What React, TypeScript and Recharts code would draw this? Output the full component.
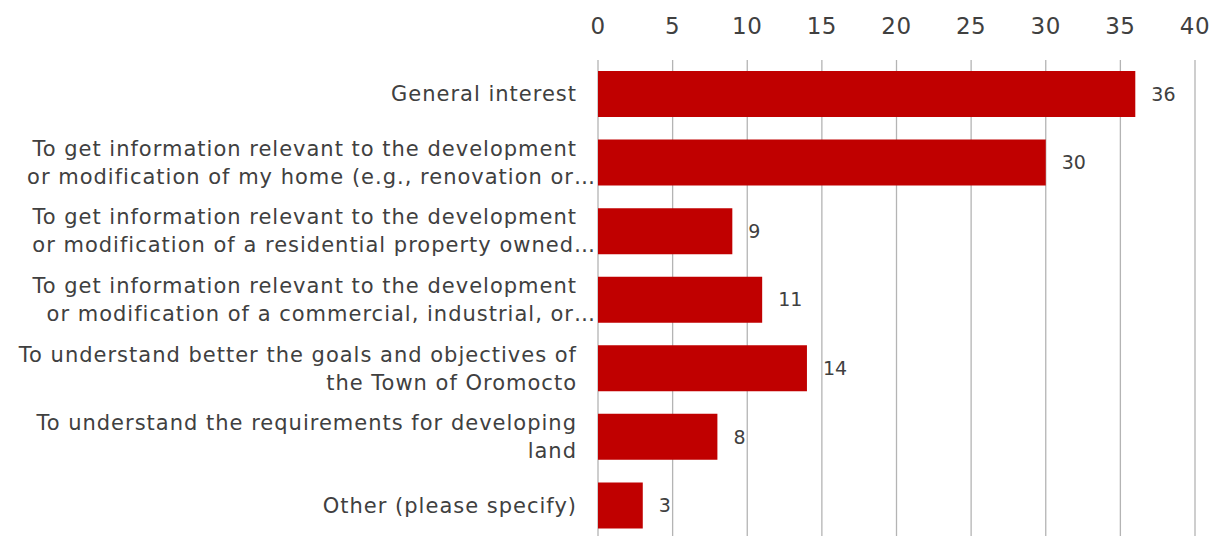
import React from 'react';
import { BarChart, Bar, XAxis, YAxis, CartesianGrid, LabelList } from 'recharts';

// Survey answers (wrapped lines as shown in the source chart)
const categories: string[][] = [
  ['General interest'],
  ['To get information relevant to the development', 'or modification of my home (e.g., renovation or…'],
  ['To get information relevant to the development', 'or modification of a residential property owned…'],
  ['To get information relevant to the development', 'or modification of a commercial, industrial, or…'],
  ['To understand better the goals and objectives of', 'the Town of Oromocto'],
  ['To understand the requirements for developing', 'land'],
  ['Other (please specify)'],
];
const counts = [36, 30, 9, 11, 14, 8, 3];
const xTicks = [0, 5, 10, 15, 20, 25, 30, 35, 40];

const data = categories.map((lines, i) => ({ key: String(i), lines, count: counts[i] }));

const FONT = '"DejaVu Sans", sans-serif';
const TEXT = '#404040';

const CategoryTick = (props: any) => {
  const { x, y, payload } = props;
  const lines = data[Number(payload.value)].lines;
  const lh = 28;
  const start = y - ((lines.length - 1) * lh) / 2;
  return (
    <text x={x - 13} y={start} textAnchor="end" fill={TEXT} fontSize={21} fontFamily={FONT}
      letterSpacing={1} dominantBaseline="central">
      {lines.map((l: string, i: number) => {
        // truncated lines spill a little past the label box, as in the source
        const lx = l.endsWith('…') ? x + 6 : x - 13;
        return <tspan key={i} x={lx} y={start + i * lh}>{l}</tspan>;
      })}
    </text>
  );
};

const ValueTick = (props: any) => {
  const { x, payload } = props;
  return (
    <text x={x} y={34} textAnchor="middle" fill={TEXT} fontSize={23} fontFamily={FONT} letterSpacing={0.5}>
      {payload.value}
    </text>
  );
};

export default function App() {
  return (
    <div style={{ position: 'absolute', left: 0, top: 0 }}>
      <BarChart
        width={1209}
        height={560}
        data={data}
        layout="vertical"
        margin={{ top: 0, right: 14, bottom: 20, left: 0 }}
      >
        <CartesianGrid horizontal={false} stroke="#b4b4b4" strokeWidth={1.3} />
        <XAxis
          type="number"
          orientation="top"
          domain={[0, 40]}
          ticks={xTicks}
          height={60}
          axisLine={false}
          tickLine={false}
          tick={<ValueTick />}
          interval={0}
        />
        <YAxis
          type="category"
          dataKey="key"
          width={598}
          axisLine={false}
          tickLine={false}
          tick={<CategoryTick />}
          interval={0}
        />
        <Bar dataKey="count" fill="#C00000" barSize={46} isAnimationActive={false}>
          <LabelList dataKey="count" position="right" offset={16} fill={TEXT} fontSize={19} fontFamily={FONT} />
        </Bar>
      </BarChart>
    </div>
  );
}
